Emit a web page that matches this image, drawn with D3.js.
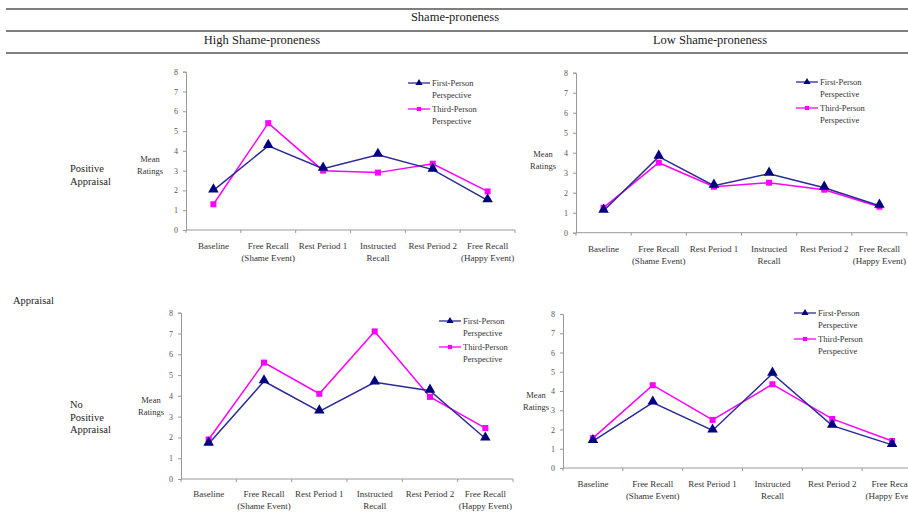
<!DOCTYPE html>
<html>
<head>
<meta charset="utf-8">
<script src="https://cdn.jsdelivr.net/npm/d3@7"></script>
<style>
  body { margin: 0; background: #fff; }
  svg { display: block; font-family: "Liberation Serif", "DejaVu Serif", serif; }
</style>
</head>
<body>
<div id="chart"></div>
<script>
// categories (multi-line labels) and y ticks
const categories = [
  ["Baseline"],
  ["Free Recall", "(Shame Event)"],
  ["Rest Period 1"],
  ["Instructed", "Recall"],
  ["Rest Period 2"],
  ["Free Recall", "(Happy Event)"]
];
const yTicks = [0, 1, 2, 3, 4, 5, 6, 7, 8];
const seriesNames = [["First-Person", "Perspective"], ["Third-Person", "Perspective"]];

// mean ratings
const highPosFirst = [2.0, 4.25, 3.1, 3.8, 3.05, 1.5];
const highPosThird = [1.3, 5.4, 3.0, 2.9, 3.35, 1.95];
const lowPosFirst  = [1.1, 3.8, 2.35, 2.95, 2.25, 1.35];
const lowPosThird  = [1.25, 3.5, 2.3, 2.5, 2.15, 1.3];
const highNoFirst  = [1.7, 4.7, 3.25, 4.65, 4.25, 1.95];
const highNoThird  = [1.9, 5.6, 4.1, 7.1, 3.95, 2.45];
const lowNoFirst   = [1.4, 3.4, 1.95, 4.9, 2.2, 1.2];
const lowNoThird   = [1.55, 4.3, 2.5, 4.35, 2.55, 1.4];

const W = 908, H = 529;
const blue = "#000080", blueLine = "#2a2a96", pink = "#ff00ff";

const svg = d3.select("#chart").append("svg")
  .attr("width", W).attr("height", H);

// header table rules + titles
[9, 31, 53].forEach(y => {
  svg.append("line").attr("x1", 6).attr("x2", W).attr("y1", y).attr("y2", y)
    .attr("stroke", "#555").attr("stroke-width", 1.3);
});
svg.append("text").attr("x", 455).attr("y", 21).attr("text-anchor", "middle")
  .style("font-size", "12.5px").attr("fill", "#222").text("Shame-proneness");
svg.append("text").attr("x", 262).attr("y", 44).attr("text-anchor", "middle")
  .style("font-size", "12.5px").attr("fill", "#222").text("High Shame-proneness");
svg.append("text").attr("x", 710).attr("y", 44).attr("text-anchor", "middle")
  .style("font-size", "12.5px").attr("fill", "#222").text("Low Shame-proneness");

// row labels
function multiText(x, y, lines, size, anchor, fill, lh) {
  const t = svg.append("text").attr("x", x).attr("y", y)
    .attr("text-anchor", anchor).style("font-size", size).attr("fill", fill);
  lines.forEach((l, i) => t.append("tspan").attr("x", x).attr("dy", i == 0 ? 0 : lh).text(l));
}
multiText(70, 172, ["Positive", "Appraisal"], "10.5px", "start", "#222", 12.5);
multiText(13, 304, ["Appraisal"], "10.5px", "start", "#222", 12.5);
multiText(70, 408, ["No", "Positive", "Appraisal"], "10.5px", "start", "#222", 12.5);

// panel layouts
const panels = [
  {first: highPosFirst, third: highPosThird, x0: 186, x1: 515, yTop: 71.7, yBot: 230,
   mean: [150, 162], catY: 249, leg: [408, 83]},
  {first: lowPosFirst, third: lowPosThird, x0: 576, x1: 907, yTop: 72.7, yBot: 232.7,
   mean: [543, 157], catY: 252, leg: [796, 82]},
  {first: highNoFirst, third: highNoThird, x0: 181, x1: 513, yTop: 312.7, yBot: 479,
   mean: [151, 403], catY: 497, leg: [439, 321]},
  {first: lowNoFirst, third: lowNoThird, x0: 563, x1: 922, yTop: 314, yBot: 468,
   mean: [536, 398], catY: 487, leg: [794, 313]}
];

const tri = d3.symbol().type(d3.symbolTriangle).size(48);
const sq = d3.symbol().type(d3.symbolSquare).size(36);

panels.forEach(p => {
  const g = svg.append("g");
  const x = d3.scaleBand().domain(d3.range(categories.length)).range([p.x0, p.x1]);
  const y = d3.scaleLinear().domain([0, 8]).range([p.yBot, p.yTop]);

  // y axis
  const ya = g.append("g").attr("transform", `translate(${p.x0},0)`)
    .call(d3.axisLeft(y).tickValues(yTicks).tickSize(3).tickPadding(5));
  ya.selectAll("path, line").attr("stroke", "#999");
  ya.selectAll("text").style("font-size", "8px").attr("fill", "#555")
    .style("font-family", "Liberation Serif");

  // x axis with ticks at band edges
  const xa = g.append("g").attr("transform", `translate(0,${p.yBot})`);
  xa.append("line").attr("x1", p.x0).attr("x2", p.x1).attr("stroke", "#999");
  xa.selectAll("line.tk").data(d3.range(categories.length + 1)).join("line")
    .attr("class", "tk")
    .attr("x1", i => i < categories.length ? x(i) : p.x1)
    .attr("x2", i => i < categories.length ? x(i) : p.x1)
    .attr("y1", 0).attr("y2", 3).attr("stroke", "#999");

  // category labels
  categories.forEach((c, i) => {
    const t = g.append("text").attr("x", x(i) + x.bandwidth() / 2).attr("y", p.catY)
      .attr("text-anchor", "middle").style("font-size", "9px").attr("fill", "#333");
    c.forEach((l, j) => t.append("tspan").attr("x", x(i) + x.bandwidth() / 2)
      .attr("dy", j == 0 ? 0 : 11.5).text(l));
  });

  // y label
  const mt = g.append("text").attr("x", p.mean[0]).attr("y", p.mean[1])
    .attr("text-anchor", "middle").style("font-size", "8.5px").attr("fill", "#333");
  ["Mean", "Ratings"].forEach((l, j) => mt.append("tspan").attr("x", p.mean[0])
    .attr("dy", j == 0 ? 0 : 11.5).text(l));

  const line = d3.line().x((d, i) => x(i) + x.bandwidth() / 2).y(d => y(d));

  // third person (drawn first, under)
  g.append("path").datum(p.third).attr("d", line)
    .attr("fill", "none").attr("stroke", pink).attr("stroke-width", 1.5);
  g.append("path").datum(p.first).attr("d", line)
    .attr("fill", "none").attr("stroke", blueLine).attr("stroke-width", 1.5);

  g.selectAll("path.sq").data(p.third).join("path").attr("class", "sq")
    .attr("d", sq).attr("fill", pink)
    .attr("transform", (d, i) => `translate(${x(i) + x.bandwidth() / 2},${y(d)})`);
  g.selectAll("path.tri").data(p.first).join("path").attr("class", "tri")
    .attr("d", tri).attr("fill", blue)
    .attr("transform", (d, i) => `translate(${x(i) + x.bandwidth() / 2},${y(d) - 1})`);

  // legend
  const [lx, ly] = p.leg;
  [[blueLine, blue, tri], [pink, pink, sq]].forEach((s, k) => {
    const yy = ly + k * 26;
    g.append("line").attr("x1", lx).attr("x2", lx + 22).attr("y1", yy).attr("y2", yy)
      .attr("stroke", s[0]).attr("stroke-width", 1.3);
    g.append("path").attr("d", d3.symbol().type(k == 0 ? d3.symbolTriangle : d3.symbolSquare).size(k == 0 ? 22 : 18))
      .attr("fill", s[1]).attr("transform", `translate(${lx + 11},${yy})`);
    const t = g.append("text").attr("x", lx + 24).attr("y", yy + 3)
      .style("font-size", "8.5px").attr("fill", "#333");
    seriesNames[k].forEach((l, j) => t.append("tspan").attr("x", lx + 24)
      .attr("dy", j == 0 ? 0 : 12).text(l));
  });
});
</script>
</body>
</html>
